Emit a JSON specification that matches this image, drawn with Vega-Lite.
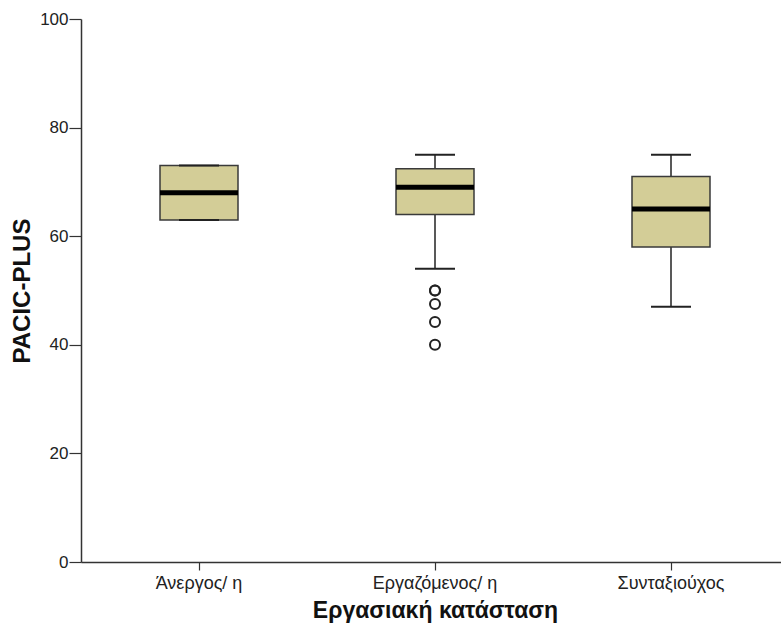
{
  "$schema": "https://vega.github.io/schema/vega-lite/v6.json",
  "width": 699,
  "height": 543,
  "autosize": {"type": "none"},
  "padding": {"left": 81, "top": 19, "right": 1, "bottom": 66},
  "background": "white",
  "config": {
    "view": {"stroke": null},
    "font": "Liberation Sans",
    "axis": {"grid": false, "domainColor": "#333", "tickColor": "#333", "domainWidth": 1.5, "tickWidth": 1.2, "labelColor": "#222", "titleColor": "#111", "labelFont": "Liberation Sans", "titleFont": "Liberation Sans"}
  },
  "datasets": {
    "boxes": [
      {"cat": "Άνεργος/ η", "lower": 63, "q1": 63, "median": 68, "q3": 73, "upper": 73},
      {"cat": "Εργαζόμενος/ η", "lower": 54, "q1": 64, "median": 69, "q3": 72.4, "upper": 75},
      {"cat": "Συνταξιούχος", "lower": 47, "q1": 58, "median": 65, "q3": 71, "upper": 75}
    ],
    "outliers": [
      {"cat": "Εργαζόμενος/ η", "value": 50},
      {"cat": "Εργαζόμενος/ η", "value": 50},
      {"cat": "Εργαζόμενος/ η", "value": 47.5},
      {"cat": "Εργαζόμενος/ η", "value": 44.2},
      {"cat": "Εργαζόμενος/ η", "value": 40}
    ]
  },
  "encoding": {
    "x": {
      "field": "cat", "type": "nominal", "sort": null,
      "scale": {"range": [0, 708], "paddingInner": 0, "paddingOuter": 0},
      "axis": {"title": "Εργασιακή κατάσταση", "labelAngle": 0, "labelFontSize": 18, "tickSize": 8, "labelPadding": 4, "titleFontSize": 23, "titleFontWeight": "bold", "titlePadding": 7}
    }
  },
  "layer": [
    {
      "data": {"name": "boxes"},
      "mark": {"type": "rule", "color": "#222", "strokeWidth": 1.5},
      "encoding": {
        "y": {"field": "lower", "type": "quantitative", "scale": {"domain": [0, 100], "nice": false}, "axis": {"title": "PACIC-PLUS", "values": [0, 20, 40, 60, 80, 100], "labelFontSize": 17, "tickSize": 12, "labelPadding": 1, "titleFontSize": 24, "titleFontWeight": "bold", "titlePadding": 5}},
        "y2": {"field": "upper"}
      }
    },
    {
      "data": {"name": "boxes"},
      "mark": {"type": "bar", "size": 78, "fill": "#d3cd97", "stroke": "#3a3a3a", "strokeWidth": 1.5},
      "encoding": {
        "y": {"field": "q1", "type": "quantitative"},
        "y2": {"field": "q3"}
      }
    },
    {
      "data": {"name": "boxes"},
      "mark": {"type": "tick", "size": 40, "thickness": 2, "color": "#222", "opacity": 1},
      "encoding": {"y": {"field": "lower", "type": "quantitative"}}
    },
    {
      "data": {"name": "boxes"},
      "mark": {"type": "tick", "size": 40, "thickness": 2, "color": "#222", "opacity": 1},
      "encoding": {"y": {"field": "upper", "type": "quantitative"}}
    },
    {
      "data": {"name": "boxes"},
      "mark": {"type": "tick", "size": 78, "thickness": 5, "color": "#000", "opacity": 1},
      "encoding": {"y": {"field": "median", "type": "quantitative"}}
    },
    {
      "data": {"name": "outliers"},
      "mark": {"type": "point", "shape": "circle", "filled": false, "size": 100, "stroke": "#222", "strokeWidth": 2, "opacity": 1},
      "encoding": {"y": {"field": "value", "type": "quantitative"}}
    }
  ]
}
